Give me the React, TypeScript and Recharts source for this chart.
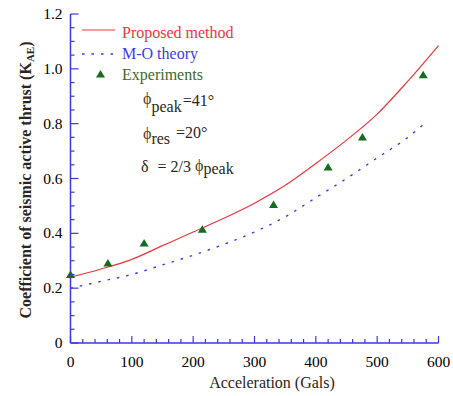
import React from 'react';
import { ComposedChart, Line, Scatter, XAxis, YAxis } from 'recharts';

// acceleration (Gals) sample points for the two curves
const curveAccel = [0, 50, 100, 150, 200, 250, 300, 350, 400, 450, 500, 550, 600];
const proposedK = [0.24, 0.27, 0.305, 0.355, 0.405, 0.455, 0.51, 0.575, 0.655, 0.74, 0.835, 0.955, 1.085];

const moAccel = [0, 50, 100, 150, 200, 250, 300, 350, 400, 450, 500, 550, 575];
const moK = [0.2, 0.225, 0.25, 0.285, 0.32, 0.36, 0.405, 0.46, 0.53, 0.6, 0.675, 0.75, 0.796];

const expAccel = [0, 61, 120, 215, 331, 420, 476, 575];
const expK = [0.248, 0.29, 0.363, 0.413, 0.503, 0.64, 0.75, 0.977];

const xTicks = Array.from({ length: 31 }, (_, i) => i * 20);
const yTicks = Array.from({ length: 25 }, (_, i) => Math.round(i * 5) / 100);

const proposedData = curveAccel.map((a, i) => ({ a, k: proposedK[i] }));
const moData = moAccel.map((a, i) => ({ a, k: moK[i] }));
const expData = expAccel.map((a, i) => ({ a, k: expK[i] }));

const AXIS = '#3a3ad8';
const RED = '#e8383c';
const BLUE = '#3c3ce6';
const GREEN = '#156b1f';
const PHI = '#4a3a20';
const FONT = 'Liberation Serif';

const XTick = ({ x, y, payload }: any) => {
  const v = payload.value;
  const major = v % 100 === 0;
  return (
    <g>
      <line x1={x} x2={x} y1={y} y2={y - (major ? 7 : 4)} stroke={AXIS} strokeWidth={1.2} />
      {major && (
        <text x={x} y={y + 24} textAnchor="middle" fill="#000000" fontSize={15.5} fontFamily={FONT}>
          {v}
        </text>
      )}
    </g>
  );
};

const YTick = ({ x, y, payload }: any) => {
  const v = payload.value;
  const major = Math.abs(v * 5 - Math.round(v * 5)) < 1e-6;
  return (
    <g>
      <line x1={x} x2={x + (major ? 8 : 4)} y1={y} y2={y} stroke={AXIS} strokeWidth={1.2} />
      {major && (
        <text x={x - 8} y={y + 5} textAnchor="end" fill="#000000" fontSize={15.5} fontFamily={FONT}>
          {v === 0 ? '0' : v.toFixed(1)}
        </text>
      )}
    </g>
  );
};

const Triangle = ({ cx, cy }: any) => (
  <polygon points={`${cx},${cy - 4.5} ${cx - 4.5},${cy + 3} ${cx + 4.5},${cy + 3}`} fill={GREEN} />
);

// html text line placed by its baseline (16px, line-height 16px)
const T = ({ x, base, color = '#2b2520', children }: any) => (
  <div
    style={{
      position: 'absolute',
      left: x,
      top: base - 13.4,
      fontFamily: FONT,
      fontSize: 16,
      lineHeight: '16px',
      color,
      whiteSpace: 'nowrap',
    }}
  >
    {children}
  </div>
);

const Shift = ({ dy, ml = 0, color, children }: any) => (
  <span style={{ position: 'relative', top: dy, marginLeft: ml, color }}>{children}</span>
);

export default function App() {
  return (
    <div style={{ position: 'absolute', left: 0, top: 0, width: 453, height: 396, background: '#fff' }}>
      <ComposedChart width={453} height={396} margin={{ top: 14, right: 14.5, left: 0.5, bottom: 0 }}>
        <XAxis
          dataKey="a"
          type="number"
          domain={[0, 600]}
          ticks={xTicks}
          interval={0}
          height={53}
          tickSize={0}
          tickMargin={0}
          tickLine={false}
          axisLine={{ stroke: AXIS, strokeWidth: 1.5 }}
          tick={<XTick />}
        />
        <YAxis
          dataKey="k"
          type="number"
          domain={[0, 1.2]}
          ticks={yTicks}
          interval={0}
          width={70}
          tickSize={0}
          tickMargin={0}
          tickLine={false}
          axisLine={{ stroke: AXIS, strokeWidth: 1.5 }}
          tick={<YTick />}
        />
        <Line
          data={moData}
          dataKey="k"
          type="monotone"
          stroke={BLUE}
          strokeWidth={1.4}
          strokeDasharray="2.5 7"
          dot={false}
          isAnimationActive={false}
        />
        <Line
          data={proposedData}
          dataKey="k"
          type="monotone"
          stroke={RED}
          strokeWidth={1.2}
          dot={false}
          isAnimationActive={false}
        />
        <Scatter data={expData} dataKey="k" shape={<Triangle />} isAnimationActive={false} />
      </ComposedChart>

      {/* legend samples */}
      <svg width={453} height={396} style={{ position: 'absolute', left: 0, top: 0, pointerEvents: 'none' }}>
        <line x1={82} x2={115} y1={30} y2={30} stroke={RED} strokeWidth={1.2} />
        <line x1={82} x2={115} y1={54} y2={54} stroke={BLUE} strokeWidth={1.4} strokeDasharray="2.5 7" />
        <polygon points="100.5,70 96,77.5 105,77.5" fill={GREEN} />
      </svg>

      <T x={122} base={38} color={RED}>Proposed method</T>
      <T x={122} base={59} color={BLUE}>M-O theory</T>
      <T x={122} base={80} color="#3d6a2a">Experiments</T>

      {/* parameters */}
      <T x={143} base={104}>
        <span style={{ color: PHI }}>ϕ</span>
        <Shift dy={8}>peak</Shift>
        <Shift dy={2} ml={1}>=41°</Shift>
      </T>
      <T x={143} base={139}>
        <span style={{ color: PHI }}>ϕ</span>
        <Shift dy={5}>res</Shift>
        <Shift dy={-1} ml={6}>=20°</Shift>
      </T>
      <T x={141} base={172}>
        δ
        <span style={{ marginLeft: 9 }}>= 2/3 </span>
        <Shift dy={-1} color={PHI}>ϕ</Shift>
        <Shift dy={2}>peak</Shift>
      </T>

      {/* axis titles */}
      <div
        style={{
          position: 'absolute',
          left: 272,
          top: 374.6,
          transform: 'translateX(-50%)',
          fontFamily: FONT,
          fontSize: 16,
          lineHeight: '16px',
          color: '#2b2520',
          whiteSpace: 'nowrap',
        }}
      >
        Acceleration (Gals)
      </div>
      <div
        style={{
          position: 'absolute',
          left: 26,
          top: 180,
          transform: 'translate(-50%, -50%) rotate(-90deg)',
          fontFamily: FONT,
          fontSize: 16,
          fontWeight: 'bold',
          lineHeight: '16px',
          color: '#2b2520',
          whiteSpace: 'nowrap',
        }}
      >
        Coefficient of seismic active thrust (K
        <span style={{ fontSize: 11, position: 'relative', top: 3 }}>AE</span>)
      </div>
    </div>
  );
}
